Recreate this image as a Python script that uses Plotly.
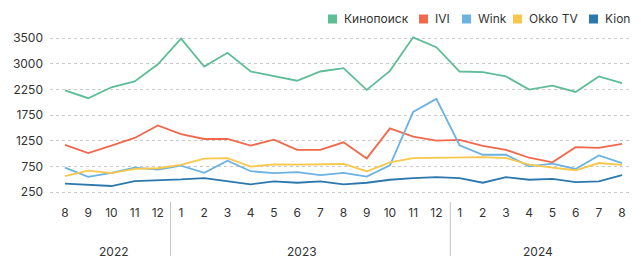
import plotly.graph_objects as go

# ---------------- data ----------------
months = ["8", "9", "10", "11", "12",
          "1", "2", "3", "4", "5", "6", "7", "8", "9", "10", "11", "12",
          "1", "2", "3", "4", "5", "6", "7", "8"]
years = ["2022", "2023", "2024"]
year_centers = [2.1, 10.2, 20.4]        # position of year label (month index)
year_breaks = [4.55, 16.6]              # separators between years

y_tickvals = [250, 750, 1250, 1750, 2250, 2750, 3250]
y_ticktext = ["250", "750", "1250", "1750", "2250", "3000", "3500"]

kinopoisk = [2237, 2083, 2295, 2410, 2744, 3244, 2699, 2968, 2603, 2519, 2423, 2603,
             2667, 2244, 2615, 3269, 3077, 2603, 2590, 2506, 2250, 2327, 2205, 2506, 2378]
ivi = [1173, 1013, 1160, 1308, 1551, 1385, 1288, 1288, 1160, 1276, 1077, 1077,
       1224, 910, 1494, 1333, 1256, 1269, 1154, 1077, 923, 833, 1128, 1115, 1192]
wink = [731, 551, 628, 731, 692, 769, 628, 865, 660, 622, 641, 583,
        628, 557, 776, 1814, 2070, 1167, 981, 981, 756, 808, 705, 968, 820]
okko = [564, 673, 622, 705, 718, 782, 904, 917, 750, 795, 788, 801,
        801, 660, 833, 917, 923, 936, 936, 917, 788, 731, 679, 820, 782]
kion = [417, 397, 372, 468, 481, 500, 526, 468, 404, 462, 436, 462,
        404, 436, 494, 526, 545, 526, 436, 545, 494, 513, 449, 462, 583]

names = ["Кинопоиск", "IVI", "Wink", "Okko TV", "Kion"]
series = [kinopoisk, ivi, wink, okko, kion]
colors = ["#5dbd97", "#f1684c", "#6cb2e2", "#f8c74c", "#2c78ac"]

# ---------------- layout constants ----------------
W, H = 641, 270
ML, MR, MT, MB = 50, 12, 35, 75
PW, PH = W - ML - MR, H - MT - MB
FONT = "Inter"
TXT = "#333333"
FS = 12

def px_x(px):
    return (px - ML) / PW

def px_y(py):
    return (H - MB - py) / PH

x = list(range(len(months)))
fig = go.Figure()
for name, vals, col in zip(names, series, colors):
    fig.add_trace(go.Scatter(x=x, y=vals, mode="lines", name=name,
                             line=dict(color=col, width=1.8),
                             showlegend=False, hoverinfo="skip"))

shapes = []
annotations = []

# year separators
for b in year_breaks:
    shapes.append(dict(type="line", xref="x", yref="paper", x0=b, x1=b,
                       y0=px_y(202), y1=px_y(256),
                       line=dict(color="#c4c4c4", width=1)))
# year labels
for yr, c in zip(years, year_centers):
    annotations.append(dict(text=yr, xref="x", yref="paper", x=c, y=px_y(251),
                            showarrow=False, xanchor="center", yanchor="middle",
                            font=dict(family=FONT, size=FS, color=TXT)))

# custom legend (square markers)
legend_sq_x = [328, 419, 462, 513, 589]
sq = 9
ly = 19
for name, col, sx in zip(names, colors, legend_sq_x):
    shapes.append(dict(type="rect", xref="paper", yref="paper",
                       x0=px_x(sx), x1=px_x(sx + sq),
                       y0=px_y(ly + sq / 2), y1=px_y(ly - sq / 2),
                       fillcolor=col, line=dict(width=0)))
    annotations.append(dict(text=name, xref="paper", yref="paper",
                            x=px_x(sx + sq + 5), y=px_y(ly),
                            showarrow=False, xanchor="left", yanchor="middle",
                            font=dict(family=FONT, size=FS, color=TXT)))

fig.update_layout(
    width=W, height=H,
    margin=dict(l=ML, r=MR, t=MT, b=MB),
    paper_bgcolor="white", plot_bgcolor="white",
    font=dict(family=FONT, size=FS, color=TXT),
    shapes=shapes, annotations=annotations,
    showlegend=False,
)
fig.update_xaxes(range=[-0.646, 24.3], tickmode="array", tickvals=x, ticktext=months,
                 showgrid=False, zeroline=False, showline=False, ticks="",
                 ticklabelstandoff=9, tickfont=dict(family=FONT, size=FS, color=TXT))
fig.update_yaxes(range=[197, 3314], tickmode="array", tickvals=y_tickvals, ticktext=y_ticktext,
                 showgrid=True, gridcolor="#c9c9c9", griddash="dot", gridwidth=1,
                 zeroline=False, showline=False, ticks="", ticklabelstandoff=6,
                 tickfont=dict(family=FONT, size=FS, color=TXT))

fig.write_html("out.html", config={"displayModeBar": False},
               post_script="document.body.style.margin='0';document.body.style.padding='0';")
